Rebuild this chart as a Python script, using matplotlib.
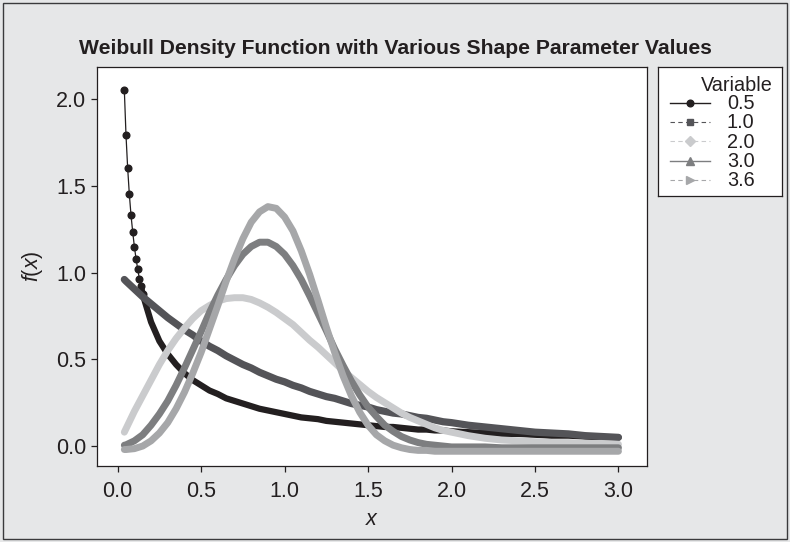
import matplotlib
matplotlib.use('Agg')
import matplotlib.pyplot as plt
from matplotlib.patches import Rectangle
from matplotlib.ticker import FormatStrFormatter

plt.rcParams['font.family'] = ['Liberation Sans', 'DejaVu Sans']
plt.rcParams['mathtext.fontset'] = 'custom'
plt.rcParams['mathtext.it'] = 'Liberation Sans:italic'
plt.rcParams['mathtext.rm'] = 'Liberation Sans'

# x grid shared by the 1.0 / 2.0 / 3.0 / 3.6 curves
x_grid = [0.04, 0.05, 0.10, 0.15, 0.20, 0.25, 0.30, 0.35, 0.40, 0.45,
          0.50, 0.55, 0.60, 0.65, 0.70, 0.75, 0.80, 0.85, 0.90, 0.95,
          1.00, 1.05, 1.10, 1.15, 1.20, 1.25, 1.30, 1.35, 1.40, 1.45,
          1.50, 1.55, 1.60, 1.65, 1.70, 1.75, 1.80, 1.85, 1.90, 1.95,
          2.00, 2.10, 2.20, 2.30, 2.40, 2.50, 2.60, 2.70, 2.80, 2.90, 3.00]

# shape 0.5 is finer at the start (individual dots visible)
x_05 = [0.04, 0.05, 0.06, 0.07, 0.08, 0.09, 0.10, 0.11, 0.12, 0.13, 0.14, 0.15,
        0.20, 0.25, 0.30, 0.35, 0.40, 0.45, 0.50, 0.55, 0.60, 0.65, 0.70, 0.75,
        0.80, 0.85, 0.90, 0.95, 1.00, 1.05, 1.10, 1.15, 1.20, 1.25, 1.30, 1.35,
        1.40, 1.45, 1.50, 1.55, 1.60, 1.65, 1.70, 1.75, 1.80, 1.85, 1.90, 1.95,
        2.00, 2.10, 2.20, 2.30, 2.40, 2.50, 2.60, 2.70, 2.80, 2.90, 3.00]
y_05 = [2.05, 1.79, 1.60, 1.45, 1.33, 1.235, 1.15, 1.08, 1.02, 0.965, 0.92, 0.875,
        0.715, 0.605, 0.53, 0.47, 0.42, 0.38, 0.35, 0.32, 0.30, 0.275, 0.26, 0.245,
        0.23, 0.215, 0.205, 0.195, 0.185, 0.175, 0.165, 0.16, 0.155, 0.145, 0.14, 0.135,
        0.13, 0.125, 0.12, 0.115, 0.11, 0.11, 0.105, 0.10, 0.095, 0.095, 0.09, 0.09,
        0.085, 0.08, 0.075, 0.07, 0.07, 0.065, 0.06, 0.06, 0.055, 0.05, 0.05]

y_10 = [0.96, 0.95, 0.905, 0.86, 0.82, 0.78, 0.74, 0.705, 0.67, 0.64,
        0.605, 0.575, 0.55, 0.52, 0.495, 0.47, 0.45, 0.425, 0.405, 0.385,
        0.37, 0.35, 0.335, 0.315, 0.30, 0.285, 0.275, 0.26, 0.245, 0.235,
        0.225, 0.21, 0.20, 0.19, 0.185, 0.175, 0.165, 0.16, 0.15, 0.14,
        0.135, 0.12, 0.11, 0.10, 0.09, 0.08, 0.075, 0.07, 0.06, 0.055, 0.05]

y_20 = [0.08, 0.10, 0.20, 0.29, 0.38, 0.47, 0.55, 0.62, 0.68, 0.735,
        0.78, 0.81, 0.835, 0.85, 0.855, 0.855, 0.845, 0.825, 0.80, 0.77,
        0.735, 0.70, 0.655, 0.61, 0.57, 0.525, 0.48, 0.435, 0.395, 0.355,
        0.315, 0.28, 0.25, 0.22, 0.19, 0.165, 0.145, 0.125, 0.105, 0.09,
        0.08, 0.06, 0.045, 0.035, 0.03, 0.025, 0.02, 0.02, 0.015, 0.015, 0.01]

y_30 = [0.005, 0.007, 0.03, 0.065, 0.12, 0.185, 0.26, 0.35, 0.45, 0.555,
        0.66, 0.77, 0.87, 0.96, 1.04, 1.105, 1.15, 1.175, 1.175, 1.15,
        1.105, 1.04, 0.96, 0.865, 0.765, 0.665, 0.56, 0.465, 0.375, 0.295,
        0.225, 0.17, 0.12, 0.085, 0.055, 0.035, 0.02, 0.01, 0.005, 0.0,
        -0.005, -0.005, -0.005, -0.01, -0.01, -0.01, -0.01, -0.01, -0.01, -0.01, -0.01]

y_36 = [-0.02, -0.02, -0.015, 0.0, 0.03, 0.075, 0.135, 0.215, 0.31, 0.42,
        0.54, 0.675, 0.81, 0.95, 1.08, 1.195, 1.29, 1.35, 1.38, 1.37,
        1.32, 1.24, 1.125, 0.99, 0.84, 0.685, 0.54, 0.405, 0.29, 0.195,
        0.12, 0.065, 0.03, 0.005, -0.01, -0.02, -0.025, -0.025, -0.03, -0.03,
        -0.03, -0.03, -0.03, -0.03, -0.03, -0.03, -0.03, -0.03, -0.03, -0.03, -0.03]

labels = ['0.5', '1.0', '2.0', '3.0', '3.6']
colors = ['#231F20', '#545458', '#CACBCD', '#7D7E80', '#A6A7A9']
markers = ['o', 's', 'D', '^', '>']
styles = ['-', '--', '--', '-', '--']

W, H = 790, 542
fig = plt.figure(figsize=(W / 100, H / 100), dpi=100, facecolor='#E6E7E8')
# outer frame of the graph window
fig.patches.append(Rectangle((3 / W, 3 / H), 1 - 6 / W, 1 - 6 / H, transform=fig.transFigure,
                             fill=False, edgecolor='#3A3A3C', linewidth=1.0))

ax = fig.add_axes([97.3 / W, 1 - 466 / H, (646.5 - 97.3) / W, (466 - 67.3) / H])
ax.set_facecolor('white')

# shape 0.5: thin line with dots at the top, merges into a thick band
ax.plot(x_05[:12], y_05[:12], color=colors[0], lw=0.9, marker='o', ms=4.8, zorder=3)
ax.plot(x_05[10:], y_05[10:], color=colors[0], lw=4.5, solid_capstyle='round', zorder=3)
ax.plot(x_grid, y_10, color=colors[1], lw=5.2, solid_capstyle='round', zorder=4)
ax.plot(x_grid, y_20, color=colors[2], lw=5.0, solid_capstyle='round', zorder=5)
ax.plot(x_grid, y_30, color=colors[3], lw=5.0, solid_capstyle='round', zorder=6)
ax.plot(x_grid, y_36, color=colors[4], lw=5.0, solid_capstyle='round', zorder=7)

ax.set_xlim(-0.122, 3.168)
ax.set_ylim(-0.115, 2.183)
ax.set_xticks([0.0, 0.5, 1.0, 1.5, 2.0, 2.5, 3.0])
ax.set_yticks([0.0, 0.5, 1.0, 1.5, 2.0])
ax.xaxis.set_major_formatter(FormatStrFormatter('%.1f'))
ax.yaxis.set_major_formatter(FormatStrFormatter('%.1f'))
ax.tick_params(direction='out', length=4.5, width=0.9, color='#231F20',
               labelcolor='#231F20', labelsize=15.5)
ax.tick_params(axis='x', pad=6)
ax.tick_params(axis='y', pad=3.5)
for sp in ax.spines.values():
    sp.set_linewidth(0.9)
    sp.set_color('#231F20')

ax.set_xlabel('$x$', fontsize=15.5, va='baseline', color='#231F20')
ax.xaxis.set_label_coords(0.5, (466 - 525) / (466 - 67.3))
ax.set_ylabel('$f$($x$)', fontsize=15.5, color='#231F20')
ax.yaxis.set_label_coords((45 - 97.3) / (646.5 - 97.3), 0.5)

fig.text(0.5, 1 - 48 / H, 'Weibull Density Function with Various Shape Parameter Values',
         ha='center', va='center', fontsize=15.2, fontweight='bold', color='#231F20')

# legend panel, drawn in pixel-like coordinates
lg = fig.add_axes([658.3 / W, 1 - 196 / H, (781.7 - 658.3) / W, (196 - 67.3) / H])
lg.set_xlim(658.3, 781.7)
lg.set_ylim(196, 67.3)
lg.set_xticks([])
lg.set_yticks([])
for sp in lg.spines.values():
    sp.set_linewidth(0.9)
    sp.set_color('#231F20')
lg.text(773, 90.7, 'Variable', ha='right', va='baseline', fontsize=14.3, color='#231F20')
msize = [4.8, 5.0, 5.5, 6.0, 6.0]
for i, lab in enumerate(labels):
    base = 109.3 + 19.2 * i
    yc = base - 6.3
    if styles[i] == '-':
        lg.plot([670, 710], [yc, yc], color=colors[i], lw=1.0)
    else:
        lg.plot([670, 710], [yc, yc], color=colors[i], lw=0.8, dashes=(4, 3))
    lg.plot([690], [yc], marker=markers[i], ms=msize[i], color=colors[i], ls='none')
    lg.text(727, base, lab, ha='left', va='baseline', fontsize=14.3, color='#231F20')

fig.savefig('out.png', dpi=100, facecolor=fig.get_facecolor())
